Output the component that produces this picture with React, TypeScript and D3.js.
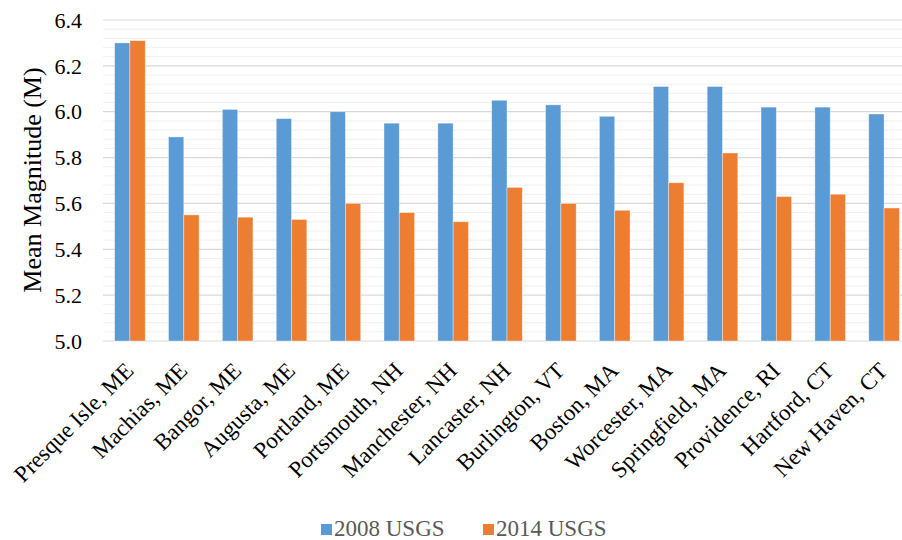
import React from "react";
import * as d3 from "d3";

const categories = [
  "Presque Isle, ME", "Machias, ME", "Bangor, ME", "Augusta, ME", "Portland, ME",
  "Portsmouth, NH", "Manchester, NH", "Lancaster, NH", "Burlington, VT", "Boston, MA",
  "Worcester, MA", "Springfield, MA", "Providence, RI", "Hartford, CT", "New Haven, CT",
];
const seriesNames = ["2008 USGS", "2014 USGS"];
const values2008 = [6.30, 5.89, 6.01, 5.97, 6.00, 5.95, 5.95, 6.05, 6.03, 5.98, 6.11, 6.11, 6.02, 6.02, 5.99];
const values2014 = [6.31, 5.55, 5.54, 5.53, 5.60, 5.56, 5.52, 5.67, 5.60, 5.57, 5.69, 5.82, 5.63, 5.64, 5.58];
const yTicks = [5.0, 5.2, 5.4, 5.6, 5.8, 6.0, 6.2, 6.4];
const colors = ["#5B9BD5", "#ED7D31"];

const W = 902, H = 540;
const plot = { left: 103, right: 911, top: 20, bottom: 341 };
const serif = "Tinos, serif";

export default function App() {
  const x = d3.scaleBand<string>().domain(categories).range([plot.left, plot.right]).paddingInner(0.432).paddingOuter(0.216);
  const xs = d3.scaleBand<string>().domain(seriesNames).range([0, x.bandwidth()]);
  const y = d3.scaleLinear().domain([5.0, 6.4]).range([plot.bottom, plot.top]);
  const minor = d3.range(0, 36).map((i) => 5.0 + i * 0.04).filter((v) => Math.abs(v / 0.2 - Math.round(v / 0.2)) > 0.01);
  const series = [values2008, values2014];

  return (
    <svg width={W} height={H} style={{ position: "absolute", left: 0, top: 0, background: "#fff" }}>
      <g>
        {minor.map((v, i) => (
          <line key={"m" + i} x1={plot.left} x2={plot.right} y1={y(v)} y2={y(v)} stroke="#f0f0f0" strokeWidth={1} />
        ))}
        {yTicks.map((v) => (
          <line key={"g" + v} x1={plot.left} x2={plot.right} y1={y(v)} y2={y(v)} stroke="#d9d9d9" strokeWidth={1.2} />
        ))}
      </g>
      <g>
        {categories.map((c, i) => (
          <g key={c} transform={`translate(${x(c)},0)`}>
            {series.map((s, j) => (
              <rect key={j} x={xs(seriesNames[j])} y={y(s[i])} width={xs.bandwidth()} height={y(5.0) - y(s[i])}
                fill={colors[j]} stroke="#ffffff" strokeOpacity={0.5} strokeWidth={0.75} />
            ))}
          </g>
        ))}
      </g>
      {yTicks.map((v) => (
        <text key={"t" + v} x={82} y={y(v)} dy="0.35em" textAnchor="end" fontFamily={serif} fontSize={22} fill="#000">{v.toFixed(1)}</text>
      ))}
      <text transform={`translate(41,180) rotate(-90)`} textAnchor="middle" fontFamily={serif} fontSize={26} fill="#000">
        Mean Magnitude (M)
      </text>
      {categories.map((c) => (
        <text key={c} fontFamily={serif} fontSize={23} fill="#000" transform={`translate(${(x(c) as number) + x.bandwidth() / 2 + 5},${372}) rotate(-45)`} textAnchor="end">{c}</text>
      ))}
      {seriesNames.map((n, j) => {
        const lx = j === 0 ? 321 : 483;
        return (
          <g key={n}>
            <rect x={lx} y={524} width={11} height={11} fill={colors[j]} />
            <text x={lx + 13} y={536} fontFamily={serif} fontSize={23} fill="#595959">{n}</text>
          </g>
        );
      })}
    </svg>
  );
}
